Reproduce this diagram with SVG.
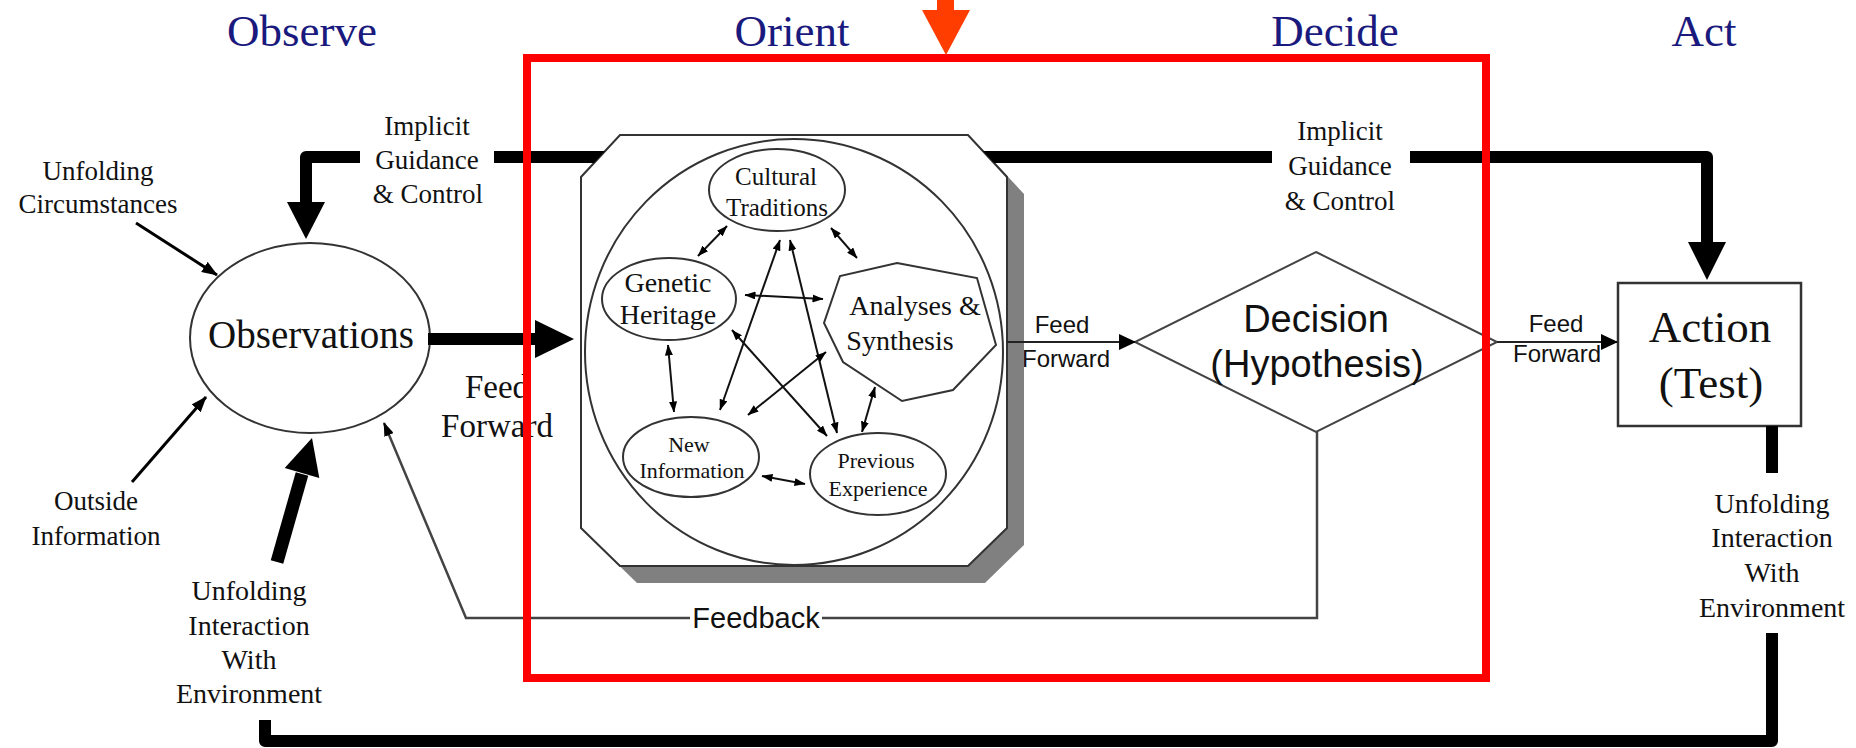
<svg xmlns="http://www.w3.org/2000/svg" width="1856" height="748" viewBox="0 0 1856 748">
  <style>
    .title{font-family:"Liberation Serif","Times New Roman",serif;font-size:45px;fill:#1a1a7e;text-anchor:middle}
    .serif{font-family:"Liberation Serif","Times New Roman",serif;fill:#111;text-anchor:middle}
    .sans{font-family:"Liberation Sans",Arial,sans-serif;fill:#111;text-anchor:middle}
    .outline{fill:#fff;stroke:#333;stroke-width:2}
    .thick{fill:none;stroke:#000;stroke-width:12;stroke-linejoin:round}
    .thin{fill:none;stroke:#000;stroke-width:3;marker-end:url(#tip)}
    .inner{fill:none;stroke:#111;stroke-width:2;marker-start:url(#dbl);marker-end:url(#dbl)}
    .ff{fill:none;stroke:#222;stroke-width:2;marker-end:url(#tip-ff)}
    .fb{fill:none;stroke:#444;stroke-width:2.5}
    .solid{fill:#000}
  </style>
  <defs>
    <marker id="tip" viewBox="0 0 16 12" refX="15" refY="6" markerWidth="16" markerHeight="12" markerUnits="userSpaceOnUse" orient="auto">
      <path d="M0,0 L16,6 L0,12 z" fill="#000"/>
    </marker>
    <marker id="tip-fb" viewBox="0 0 14 10" refX="13" refY="5" markerWidth="14" markerHeight="10" markerUnits="userSpaceOnUse" orient="auto">
      <path d="M0,0 L14,5 L0,10 z" fill="#000"/>
    </marker>
    <marker id="tip-ff" viewBox="0 0 17 16" refX="16" refY="8" markerWidth="17" markerHeight="16" markerUnits="userSpaceOnUse" orient="auto">
      <path d="M0,0 L17,8 L0,16 z" fill="#000"/>
    </marker>
    <marker id="dbl" viewBox="0 0 11 8" refX="10.5" refY="4" markerWidth="11" markerHeight="8" markerUnits="userSpaceOnUse" orient="auto-start-reverse">
      <path d="M0,0 L11,4 L0,8 z" fill="#000"/>
    </marker>
  </defs>

  <rect width="1856" height="748" fill="#fff"/>

  <!-- phase headings -->
  <g id="headings">
    <text class="title" x="302" y="46">Observe</text>
    <text class="title" x="792" y="46">Orient</text>
    <text class="title" x="1335" y="46">Decide</text>
    <text class="title" x="1704" y="46">Act</text>
  </g>

  <!-- connector labels -->
  <g id="labels">
    <text class="serif" font-size="27" x="98" y="180">Unfolding</text>
    <text class="serif" font-size="27" x="98" y="213">Circumstances</text>
    <text class="serif" font-size="27" x="96" y="510">Outside</text>
    <text class="serif" font-size="27" x="96" y="545">Information</text>
    <text class="serif" font-size="27" x="427" y="135">Implicit</text>
    <text class="serif" font-size="27" x="427" y="169">Guidance</text>
    <text class="serif" font-size="27" x="428" y="203">&amp; Control</text>
    <text class="serif" font-size="27" x="1340" y="140">Implicit</text>
    <text class="serif" font-size="27" x="1340" y="175">Guidance</text>
    <text class="serif" font-size="27" x="1340" y="210">&amp; Control</text>
    <text class="serif" font-size="33" x="497" y="398">Feed</text>
    <text class="serif" font-size="33" x="497" y="437">Forward</text>
    <text class="serif" font-size="28" x="249" y="600">Unfolding</text>
    <text class="serif" font-size="28" x="249" y="635">Interaction</text>
    <text class="serif" font-size="28" x="249" y="669">With</text>
    <text class="serif" font-size="28" x="249" y="703">Environment</text>
    <text class="serif" font-size="28" x="1772" y="513">Unfolding</text>
    <text class="serif" font-size="28" x="1772" y="547">Interaction</text>
    <text class="serif" font-size="28" x="1772" y="582">With</text>
    <text class="serif" font-size="28" x="1772" y="617">Environment</text>
    <text class="sans" font-size="24" x="1062" y="333">Feed</text>
    <text class="sans" font-size="24" x="1066" y="367">Forward</text>
    <text class="sans" font-size="24" x="1556" y="332">Feed</text>
    <text class="sans" font-size="24" x="1557" y="362">Forward</text>
    <text class="sans" font-size="29" x="756" y="628">Feedback</text>
  </g>

  <!-- Observe -->
  <g id="observations">
    <ellipse class="outline" cx="310" cy="338" rx="120" ry="95"/>
    <text class="serif" font-size="39" x="311" y="348">Observations</text>
  </g>

  <!-- Orient: framed block with its five inputs -->
  <g id="orient">
    <polygon points="637,152 985,152 1024,194 1024,545 985,583 637,583 598,545 598,194" fill="#808080"/>
    <polygon class="outline" points="620,135 968,135 1007,177 1007,528 968,566 620,566 581,528 581,177"/>
    <ellipse class="outline" cx="794" cy="352" rx="209" ry="213"/>
  </g>
  <g id="cultural-traditions">
    <ellipse class="outline" cx="777" cy="190" rx="68" ry="41"/>
    <text class="serif" font-size="25" x="776" y="185">Cultural</text>
    <text class="serif" font-size="25" x="777" y="216">Traditions</text>
  </g>
  <g id="genetic-heritage">
    <ellipse class="outline" cx="669" cy="299" rx="67" ry="41"/>
    <text class="serif" font-size="28" x="668" y="292">Genetic</text>
    <text class="serif" font-size="28" x="668" y="324">Heritage</text>
  </g>
  <g id="analyses-synthesis">
    <polygon class="outline" points="897,263 977,278 996,345 953,390 902,401 843,362 824,323 840,276"/>
    <text class="serif" font-size="28" x="915" y="315">Analyses &amp;</text>
    <text class="serif" font-size="28" x="900" y="350">Synthesis</text>
  </g>
  <g id="new-information">
    <ellipse class="outline" cx="691" cy="457" rx="68" ry="40"/>
    <text class="serif" font-size="22" x="689" y="452">New</text>
    <text class="serif" font-size="22" x="692" y="478">Information</text>
  </g>
  <g id="previous-experience">
    <ellipse class="outline" cx="878" cy="474" rx="68" ry="41"/>
    <text class="serif" font-size="22" x="876" y="468">Previous</text>
    <text class="serif" font-size="22" x="878" y="496">Experience</text>
  </g>

  <!-- Decide -->
  <g id="decision">
    <polygon points="1316,252 1497,342 1316,432 1135,342" fill="#fff" stroke="#444" stroke-width="2"/>
    <text class="sans" font-size="38" x="1316" y="332">Decision</text>
    <text class="sans" font-size="38" x="1317" y="377">(Hypothesis)</text>
  </g>

  <!-- Act -->
  <g id="action">
    <rect x="1618" y="283" width="183" height="143" fill="#fff" stroke="#333" stroke-width="2.5"/>
    <text class="serif" font-size="45" x="1710" y="342">Action</text>
    <text class="serif" font-size="45" x="1711" y="398">(Test)</text>
  </g>

  <g id="connectors">
    <!-- implicit guidance & control -->
    <path class="thick" d="M360,157 H306 V204"/>
    <polygon class="solid" points="287,202 325,202 306,239"/>
    <polygon class="solid" points="494,151 605,151 594,163 494,163"/>
    <polygon class="solid" points="983,151 1272,151 1272,163 994,163"/>
    <path class="thick" d="M1410,157 H1707 V243"/>
    <polygon class="solid" points="1688,242 1726,242 1707,280"/>

    <!-- feed forward observe to orient -->
    <path class="thick" d="M428,339 H537"/>
    <polygon class="solid" points="535,320 574,339 535,358"/>

    <!-- unfolding interaction with environment -->
    <line x1="277" y1="562" x2="302" y2="474" stroke="#000" stroke-width="13"/>
    <polygon class="solid" points="284.7,468 319.3,478 312,438"/>
    <path class="thick" d="M1772,426 V473"/>
    <path class="thick" d="M1772,633 V741 H265 V720"/>

    <!-- outside inputs -->
    <path class="thin" d="M136,223 L217,275"/>
    <path class="thin" d="M132,482 L206,397"/>

    <!-- feedback -->
    <path class="fb" d="M1317,432 V618 H822"/>
    <path class="fb" d="M690,618 H466 L384,423" marker-end="url(#tip-fb)"/>

    <!-- feed forward to decide and act -->
    <path class="ff" d="M1007,342 H1135"/>
    <path class="ff" d="M1497,342 H1617"/>

    <!-- orientation links -->
    <path class="inner" d="M727,226 L698,256"/>
    <path class="inner" d="M831,228 L857,258"/>
    <path class="inner" d="M745,295 L823,299"/>
    <path class="inner" d="M668,345 L674,412"/>
    <path class="inner" d="M780,240 L720,410"/>
    <path class="inner" d="M790,240 L837,433"/>
    <path class="inner" d="M732,330 L827,436"/>
    <path class="inner" d="M826,352 L748,415"/>
    <path class="inner" d="M875,387 L862,432"/>
    <path class="inner" d="M762,476 L805,484"/>
  </g>

  <!-- highlight -->
  <g id="highlight">
    <rect x="527" y="58" width="959" height="620" fill="none" stroke="#ff0000" stroke-width="8"/>
    <rect x="937" y="0" width="17" height="11" fill="#ff3d00"/>
    <polygon points="922,10 970,10 946,55" fill="#ff3d00"/>
  </g>
</svg>
